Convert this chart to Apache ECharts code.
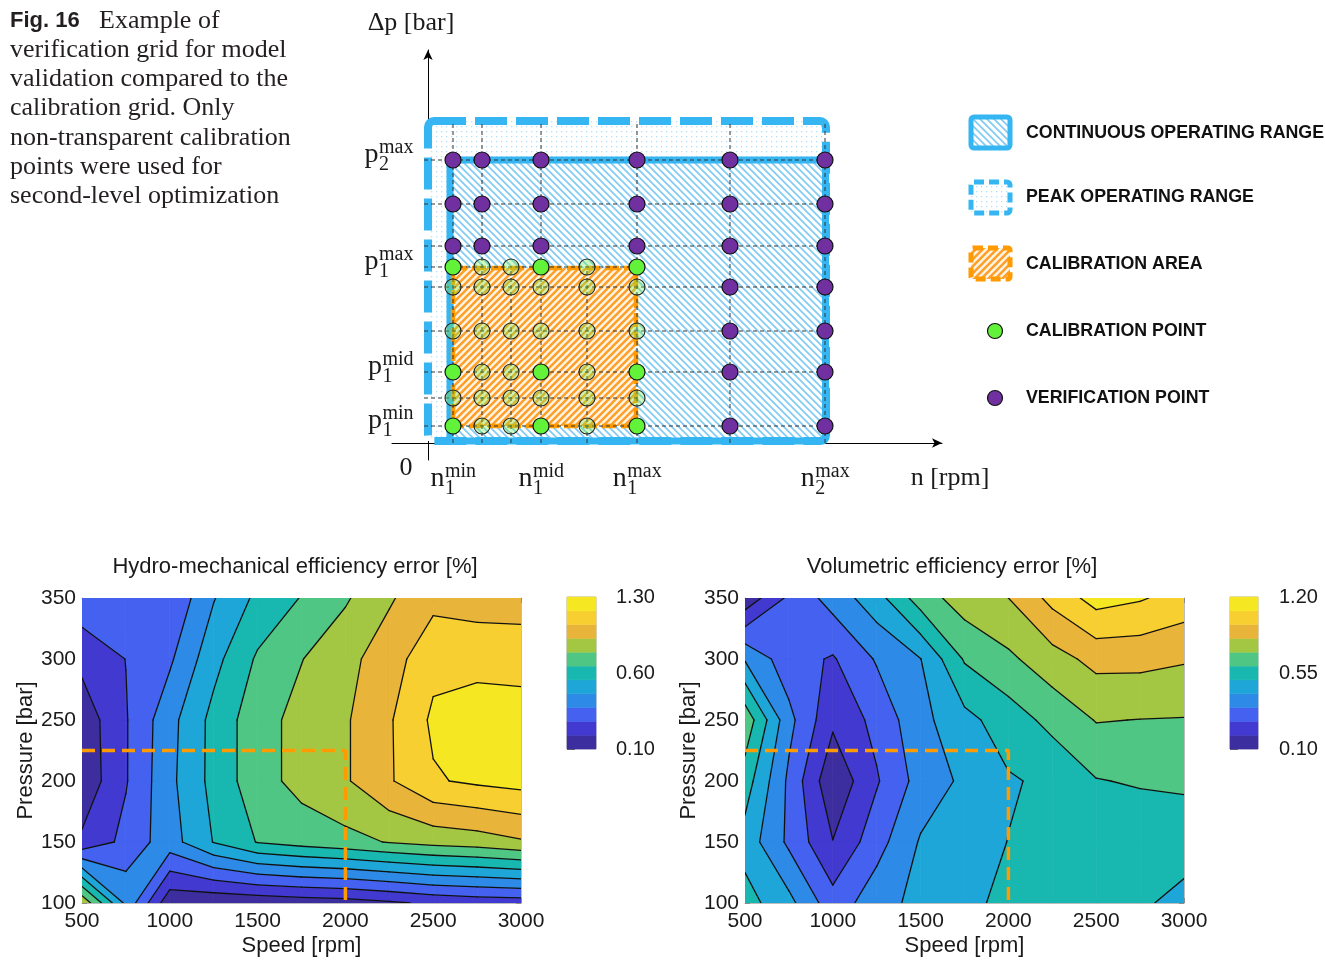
<!DOCTYPE html>
<html><head><meta charset="utf-8">
<script src="https://cdn.jsdelivr.net/npm/echarts@6/dist/echarts.min.js"></script>
<style>html,body{margin:0;padding:0;background:#fff}#c{width:1325px;height:961px}</style>
</head><body><div id="c"></div>
<script>
// ================= DATA =================
// Contour plots: speed [rpm] x pressure [bar] grid
const speeds = [500, 750, 1000, 1250, 1500, 1750, 2000, 2250, 2500, 2750, 3000];
const pressures = [100, 150, 200, 250, 300, 350];
// Hydro-mechanical efficiency error [%] (one array per pressure row)
const hmErrP100 = [0.95, 0.51, 0.13, 0.12, 0.13, 0.15, 0.16, 0.19, 0.23, 0.25, 0.26];
const hmErrP150 = [0.23, 0.35, 0.49, 0.65, 0.76, 0.80, 0.83, 0.87, 0.90, 0.92, 0.96];
const hmErrP200 = [0.13, 0.31, 0.51, 0.68, 0.82, 0.90, 0.96, 1.07, 1.18, 1.21, 1.23];
const hmErrP250 = [0.14, 0.31, 0.50, 0.68, 0.82, 0.90, 0.96, 1.07, 1.21, 1.24, 1.24];
const hmErrP300 = [0.24, 0.32, 0.41, 0.61, 0.77, 0.86, 0.94, 1.03, 1.16, 1.16, 1.15];
const hmErrP350 = [0.39, 0.37, 0.33, 0.53, 0.67, 0.76, 0.85, 0.96, 1.05, 1.03, 1.03];
// Volumetric efficiency error [%]
const volErrP100 = [0.64, 0.53, 0.34, 0.46, 0.53, 0.58, 0.62, 0.62, 0.62, 0.61, 0.58];
const volErrP150 = [0.56, 0.38, 0.203, 0.36, 0.51, 0.55, 0.602, 0.62, 0.63, 0.63, 0.63];
const volErrP200 = [0.65, 0.38, 0.12, 0.29, 0.44, 0.52, 0.59, 0.62, 0.695, 0.71, 0.72];
const volErrP250 = [0.77, 0.43, 0.22, 0.33, 0.47, 0.57, 0.65, 0.73, 0.805, 0.798, 0.795];
const volErrP300 = [0.49, 0.34, 0.29, 0.41, 0.498, 0.71, 0.78, 0.86, 0.93, 0.93, 0.91];
const volErrP350 = [0.13, 0.32, 0.44, 0.56, 0.75, 0.85, 0.90, 1.03, 1.14, 1.11, 1.06];
// Contour range / colorbar
const hmRange = [0.10, 1.30];
const volRange = [0.10, 1.20];
const bandCount = 11;
const hmBarTicks = ['0.10', '0.60', '1.30'];
const volBarTicks = ['0.10', '0.55', '1.20'];
// Calibration boundary (orange dashed) in the contour plots
const calibSpeed = [500, 2000, 2000];
const calibPressure = [225, 225, 100];

// Schematic (relative units along the schematic n / Δp axes)
const schemN = [2.5, 5.4, 8.3, 11.3, 15.9, 20.9, 30.2, 39.7];
const schemP = [1.7, 4.5, 7.1, 11.2, 15.6, 17.6, 19.7, 23.9, 28.3];
const peakN = [0, 39.8], peakP = [0.2, 32.2];
const contN = [2.2, 39.75], contP = [0.2, 28.3];
const calN = [2.5, 20.8], calP = [1.7, 17.5];
const verifCols = [0, 1, 3, 5, 6, 7], verifUpperRows = [6, 7, 8];
const verifSideCols = [6, 7], verifSideRows = [0, 2, 3, 4];
const calibCols = [0, 3, 5], calibRows = [0, 2, 5];
const calGridCols = [0, 1, 2, 3, 4, 5], calGridRows = [0, 1, 2, 3, 4, 5];
const pTickRows = [8, 5, 2, 0], pTickSub = ['2', '1', '1', '1'], pTickSup = ['max', 'max', 'mid', 'min'];
const nTickCols = [0, 3, 5, 7], nTickSub = ['1', '1', '1', '2'], nTickSup = ['min', 'mid', 'max', 'max'];

// ================= STYLE =================
const parula11 = ['#3d2ea0', '#4139d0', '#4462ef', '#2d8ae6', '#1ea6d9', '#18b8b0', '#4fc684', '#a3c742', '#e8b43a', '#f8cf30', '#f6e723'];
const BLUE = '#35b6f3', ORANGE = '#ff9a00', PURPLE = '#7030a0', GREEN = '#62f23a';
const SANS = 'Liberation Sans', SERIF = 'Liberation Serif';

function makeCanvas(w, h, draw) { const c = document.createElement('canvas'); c.width = w; c.height = h; draw(c.getContext('2d')); return c; }
const dotPat = { image: makeCanvas(5, 5, g => { g.fillStyle = '#fff'; g.fillRect(0, 0, 5, 5); g.fillStyle = '#b3e0f6'; g.fillRect(1, 1, 1.3, 1.3); }), repeat: 'repeat' };
const blueHatch = { image: makeCanvas(7, 7, g => { g.fillStyle = '#fff'; g.fillRect(0, 0, 7, 7); g.strokeStyle = '#82cbf2'; g.lineWidth = 1.7; g.beginPath(); g.moveTo(-1, -1); g.lineTo(8, 8); g.moveTo(6, -1); g.lineTo(8, 1); g.moveTo(-1, 6); g.lineTo(1, 8); g.stroke(); }), repeat: 'repeat' };
const orangeHatch = { image: makeCanvas(7, 7, g => { g.fillStyle = '#fff5e6'; g.fillRect(0, 0, 7, 7); g.strokeStyle = '#ffa02a'; g.lineWidth = 2.6; g.beginPath(); g.moveTo(-1, 8); g.lineTo(8, -1); g.moveTo(-1, 1); g.lineTo(1, -1); g.moveTo(6, 8); g.lineTo(8, 6); g.stroke(); }), repeat: 'repeat' };

// ================= CONTOUR HELPERS =================
function levelsFor(range) { const out = []; for (let k = 0; k <= bandCount; k++) out.push(range[0] + (range[1] - range[0]) * k / bandCount); return out; }
function interp(a, b, L) { const t = (L - a.v) / (b.v - a.v); return { x: a.x + t * (b.x - a.x), y: a.y + t * (b.y - a.y), v: L, cut: true }; }
function clip(poly, L, keepAbove) {
  if (!isFinite(L) || poly.length === 0) return poly;
  const out = [], n = poly.length;
  const ins = p => keepAbove ? p.v >= L : p.v < L;
  for (let m = 0; m < n; m++) {
    const a = poly[m], b = poly[(m + 1) % n], ia = ins(a), ib = ins(b);
    if (ia && ib) out.push(b);
    else if (ia && !ib) out.push(interp(a, b, L));
    else if (!ia && ib) { out.push(interp(a, b, L)); out.push(b); }
  }
  return out;
}
function contourSeries(xi, yi, rows, range) {
  const levels = levelsFor(range);
  const cells = [];
  for (let j = 0; j < pressures.length - 1; j++)
    for (let i = 0; i < speeds.length - 1; i++) cells.push([speeds[i], pressures[j], i, j]);
  return {
    type: 'custom', xAxisIndex: xi, yAxisIndex: yi, data: cells, encode: { x: 0, y: 1 }, silent: true, z: 2, clip: true,
    renderItem(params, api) {
      const i = api.value(2), j = api.value(3);
      const corners = [[i, j], [i + 1, j], [i + 1, j + 1], [i, j + 1]].map(([a, b]) => {
        const p = api.coord([speeds[a], pressures[b]]); return { x: p[0], y: p[1], v: rows[b][a] };
      });
      const children = [];
      for (let k = 0; k < bandCount; k++) {
        const lo = k === 0 ? -Infinity : levels[k];
        const hi = k === bandCount - 1 ? Infinity : levels[k + 1];
        let poly = clip(corners, lo, true);
        poly = clip(poly, hi, false);
        if (poly.length >= 3) children.push({ type: 'polygon', z2: 1, shape: { points: poly.map(p => [p.x, p.y]) }, style: { fill: parula11[k], stroke: parula11[k], lineWidth: 0.7 } });
      }
      for (let k = 1; k < bandCount; k++) {
        const poly = clip(corners, levels[k], true);
        for (let m = 0; m < poly.length; m++) {
          const a = poly[m], b = poly[(m + 1) % poly.length];
          if (a.cut && b.cut) children.push({ type: 'line', z2: 50, shape: { x1: a.x, y1: a.y, x2: b.x, y2: b.y }, style: { stroke: '#111', lineWidth: 1.3, lineCap: 'round' } });
        }
      }
      return { type: 'group', children };
    }
  };
}
function colorbarSeries(xi, yi) {
  const bands = []; for (let k = 0; k < bandCount; k++) bands.push([0, k]);
  return {
    type: 'custom', xAxisIndex: xi, yAxisIndex: yi, data: bands, encode: { x: 0, y: 1 }, silent: true,
    renderItem(params, api) {
      const k = api.value(1); const a = api.coord([0, k + 1]), b = api.coord([1, k]);
      return { type: 'rect', shape: { x: a[0], y: a[1], width: b[0] - a[0], height: b[1] - a[1] }, style: { fill: parula11[k], stroke: parula11[k], lineWidth: 0.5 } };
    }
  };
}

// ================= SCHEMATIC HELPERS =================
function rectSeries(n, p, style, z, r) {
  return {
    type: 'custom', xAxisIndex: 0, yAxisIndex: 0, z, silent: true, data: [[n[0], p[0], n[1], p[1]]], encode: { x: [0, 2], y: [1, 3] },
    renderItem(params, api) {
      const a = api.coord([api.value(0), api.value(3)]), b = api.coord([api.value(2), api.value(1)]);
      return { type: 'rect', shape: { x: a[0], y: a[1], width: b[0] - a[0], height: b[1] - a[1], r: r || 0 }, style };
    }
  };
}
const gridLines = [];
schemN.forEach((n, ci) => { gridLines.push([n, 0, n, verifCols.includes(ci) ? peakP[1] : calP[1]]); });
schemP.forEach((p, ri) => { const full = verifUpperRows.includes(ri) || verifSideRows.includes(ri); gridLines.push([-0.4, p, full ? schemN[7] : schemN[5], p]); });
const verifPts = [], calibPts = [], transPts = [];
verifUpperRows.forEach(r => verifCols.forEach(c => verifPts.push([schemN[c], schemP[r]])));
verifSideRows.forEach(r => verifSideCols.forEach(c => verifPts.push([schemN[c], schemP[r]])));
calGridRows.forEach(r => calGridCols.forEach(c => {
  if (calibRows.includes(r) && calibCols.includes(c)) calibPts.push([schemN[c], schemP[r]]);
  else transPts.push([schemN[c], schemP[r]]);
}));

// ================= AXES =================
const tickColor = '#8c8c8c', frameColor = '#bdbdbd', txt = '#1a1a1a';
function xAx(gi, pos, main) {
  return {
    type: 'value', gridIndex: gi, position: pos, min: 500, max: 3000, interval: 500,
    axisLine: { show: true, onZero: false, lineStyle: { color: frameColor } },
    axisTick: { show: true, inside: true, length: 5, lineStyle: { color: tickColor } },
    minorTick: { show: true, splitNumber: 2, length: 5, lineStyle: { color: tickColor } },
    axisLabel: { show: main, margin: 8, fontFamily: SANS, fontSize: 21, color: txt, formatter: v => String(v) },
    splitLine: { show: false },
    name: main ? 'Speed [rpm]' : '', nameLocation: 'middle', nameGap: 32,
    nameTextStyle: { fontFamily: SANS, fontSize: 22, color: txt }
  };
}
function yAx(gi, pos, main) {
  return {
    type: 'value', gridIndex: gi, position: pos, min: 100, max: 350, interval: 50,
    axisLine: { show: true, onZero: false, lineStyle: { color: frameColor } },
    axisTick: { show: true, inside: true, length: 5, lineStyle: { color: tickColor } },
    axisLabel: { show: main, margin: 6, fontFamily: SANS, fontSize: 21, color: txt, formatter: v => String(v) },
    splitLine: { show: false },
    name: main ? 'Pressure [bar]' : '', nameLocation: 'middle', nameGap: 44, nameRotate: 90,
    nameTextStyle: { fontFamily: SANS, fontSize: 22, color: txt }
  };
}
const cbTickPos = [0, 5.5, 11];
function cbY(gi, ticks, margin) {
  return {
    type: 'value', gridIndex: gi, position: 'right', min: 0, max: bandCount, interval: 5.5,
    axisLine: { show: false }, splitLine: { show: false },
    axisTick: { show: true, inside: false, length: 8, lineStyle: { color: '#666' } },
    axisLabel: { margin, fontFamily: SANS, fontSize: 20, color: txt, formatter: v => ticks[cbTickPos.indexOf(v)] || '' }
  };
}
const cbX = gi => ({ type: 'value', gridIndex: gi, min: 0, max: 1, show: false });

const hmRows = [hmErrP100, hmErrP150, hmErrP200, hmErrP250, hmErrP300, hmErrP350];
const volRows = [volErrP100, volErrP150, volErrP200, volErrP250, volErrP300, volErrP350];

const option = {
  animation: false,
  backgroundColor: '#fff',
  grid: [
    { left: 392, top: 50, width: 550, height: 410 },
    { left: 82, top: 598, width: 439, height: 305 },
    { left: 745, top: 598, width: 439, height: 305 },
    { left: 567, top: 597, width: 29, height: 152, show: true, borderColor: '#9a9a9a', borderWidth: 0.8 },
    { left: 1230, top: 597, width: 28, height: 152, show: true, borderColor: '#9a9a9a', borderWidth: 0.8 }
  ],
  xAxis: [
    { type: 'value', gridIndex: 0, min: -3.6, max: 51.4, axisLine: { show: true, onZero: true, symbol: ['none', 'arrow'], symbolSize: [7, 10], lineStyle: { color: '#000', width: 1 } }, axisTick: { show: false }, axisLabel: { show: false }, splitLine: { show: false } },
    xAx(1, 'bottom', true), xAx(1, 'top', false), xAx(2, 'bottom', true), xAx(2, 'top', false),
    cbX(3), cbX(4)
  ],
  yAxis: [
    { type: 'value', gridIndex: 0, min: -1.7, max: 39.3, axisLine: { show: true, onZero: true, symbol: ['none', 'arrow'], symbolSize: [7, 10], lineStyle: { color: '#000', width: 1 } }, axisTick: { show: false }, axisLabel: { show: false }, splitLine: { show: false } },
    yAx(1, 'left', true), yAx(1, 'right', false), yAx(2, 'left', true), yAx(2, 'right', false),
    cbY(3, hmBarTicks, 20), cbY(4, volBarTicks, 21)
  ],
  series: [
    // schematic fills
    rectSeries(peakN, peakP, { fill: dotPat }, 1),
    rectSeries(contN, contP, { fill: blueHatch }, 1),
    rectSeries(calN, calP, { fill: orangeHatch }, 1),
    // schematic borders
    rectSeries(peakN, peakP, { fill: 'none', stroke: BLUE, lineWidth: 8, lineDash: [32, 9], lineDashOffset: 0 }, 2, 6),
    rectSeries(contN, contP, { fill: 'none', stroke: BLUE, lineWidth: 7 }, 2, 3),
    rectSeries(calN, calP, { fill: 'none', stroke: ORANGE, lineWidth: 4.5, lineDash: [14, 5] }, 2),
    {
      type: 'custom', xAxisIndex: 0, yAxisIndex: 0, z: 3, silent: true, data: gridLines, encode: { x: [0, 2], y: [1, 3] },
      renderItem(params, api) {
        const a = api.coord([api.value(0), api.value(1)]), b = api.coord([api.value(2), api.value(3)]);
        return { type: 'line', shape: { x1: a[0], y1: a[1], x2: b[0], y2: b[1] }, style: { stroke: '#333', lineWidth: 1, lineDash: [4, 3] } };
      }
    },
    { type: 'scatter', xAxisIndex: 0, yAxisIndex: 0, z: 5, silent: true, data: verifPts, symbolSize: 16, itemStyle: { color: PURPLE, borderColor: '#111', borderWidth: 1.2, opacity: 1 } },
    { type: 'scatter', xAxisIndex: 0, yAxisIndex: 0, z: 5, silent: true, data: calibPts, symbolSize: 16, itemStyle: { color: GREEN, borderColor: '#111', borderWidth: 1.2, opacity: 1 } },
    { type: 'scatter', xAxisIndex: 0, yAxisIndex: 0, z: 5, silent: true, data: transPts, symbolSize: 16, itemStyle: { color: 'rgba(120,235,80,0.35)', borderColor: '#222', borderWidth: 1.1, opacity: 1 } },
    // contour plots
    contourSeries(1, 1, hmRows, hmRange),
    contourSeries(3, 3, volRows, volRange),
    { type: 'line', xAxisIndex: 1, yAxisIndex: 1, z: 6, silent: true, symbol: 'none', data: calibSpeed.map((s, k) => [s, calibPressure[k]]), lineStyle: { color: ORANGE, width: 3.5, type: [13, 7] } },
    { type: 'line', xAxisIndex: 3, yAxisIndex: 3, z: 6, silent: true, symbol: 'none', data: calibSpeed.map((s, k) => [s, calibPressure[k]]), lineStyle: { color: ORANGE, width: 3.5, type: [13, 7] } },
    colorbarSeries(5, 5),
    colorbarSeries(6, 6)
  ]
};

const chart = echarts.init(document.getElementById('c'), null, { renderer: 'canvas', width: 1325, height: 961 });
chart.setOption(option);

// ================= TEXT / LEGEND GRAPHICS =================
const mctx = document.createElement('canvas').getContext('2d');
function tw(s, font) { mctx.font = font; return mctx.measureText(s).width; }
function T(text, x, y, font, align, va, color) {
  return { type: 'text', x, y, silent: true, style: { text, font, fill: color || '#1a1a1a', textAlign: align || 'left', textVerticalAlign: va || 'middle', align: align || 'left', verticalAlign: va || 'middle' } };
}
const g = [];
// caption
const capFont = '26px "' + SERIF + '"';
g.push(T('Fig. 16', 10, 21, 'bold 22px "' + SANS + '"', 'left', 'middle', '#231f20'));
g.push(T('Example of', 99, 21, capFont, 'left', 'middle', '#231f20'));
['verification grid for model', 'validation compared to the', 'calibration grid. Only', 'non-transparent calibration', 'points were used for', 'second-level optimization']
  .forEach((s, i) => g.push(T(s, 10, 50 + i * 29.3, capFont, 'left', 'middle', '#231f20')));

// schematic labels
const baseFs = 28, smallFs = 20;
const baseFont = baseFs + 'px "' + SERIF + '"', smallFont = smallFs + 'px "' + SERIF + '"';
const mid = fs => 0.3375 * fs; // baseline offset for 'middle'
function supSub(base, sup, sub, left, baseline) {
  const wb = tw(base, baseFont);
  g.push(T(base, left, baseline - mid(baseFs), baseFont));
  g.push(T(sup, left + wb + 0.5, baseline - 10 - mid(smallFs), smallFont));
  g.push(T(sub, left + wb + 0.5, baseline + 7 - mid(smallFs), smallFont));
}
const origin = chart.convertToPixel({ gridIndex: 0 }, [0, 0]);
pTickRows.forEach((r, k) => {
  const py = chart.convertToPixel({ gridIndex: 0 }, [0, schemP[r]])[1];
  const total = tw('p', baseFont) + Math.max(tw(pTickSup[k], smallFont), tw(pTickSub[k], smallFont));
  supSub('p', pTickSup[k], pTickSub[k], origin[0] - 15 - total, py + 4);
});
nTickCols.forEach((c, k) => {
  const px = chart.convertToPixel({ gridIndex: 0 }, [schemN[c], 0])[0];
  const total = tw('n', baseFont) + Math.max(tw(nTickSup[k], smallFont), tw(nTickSub[k], smallFont));
  supSub('n', nTickSup[k], nTickSub[k], px - total / 2, origin[1] + 45);
});
g.push(T('0', origin[0] - 22, origin[1] + 25, '26px "' + SERIF + '"', 'center'));
g.push(T('Δp [bar]', origin[0] - 17, 23, '26px "' + SERIF + '"', 'center'));
g.push(T('n [rpm]', 950, origin[1] + 35, '26px "' + SERIF + '"', 'center'));

// legend
const legFont = 'bold 17.8px "' + SANS + '"';
g.push({ type: 'rect', silent: true, shape: { x: 971, y: 117, width: 39, height: 31, r: 3 }, style: { fill: blueHatch, stroke: BLUE, lineWidth: 5 } });
g.push({ type: 'rect', silent: true, shape: { x: 971, y: 182, width: 39, height: 31, r: 3 }, style: { fill: dotPat, stroke: BLUE, lineWidth: 5, lineDash: [10, 5] } });
g.push({ type: 'rect', silent: true, shape: { x: 971, y: 248, width: 39, height: 31, r: 2 }, style: { fill: orangeHatch, stroke: ORANGE, lineWidth: 5, lineDash: [10, 5] } });
g.push({ type: 'circle', silent: true, shape: { cx: 995, cy: 331, r: 7.5 }, style: { fill: GREEN, stroke: '#111', lineWidth: 1.2 } });
g.push({ type: 'circle', silent: true, shape: { cx: 995, cy: 398, r: 7.5 }, style: { fill: PURPLE, stroke: '#111', lineWidth: 1.2 } });
[['CONTINUOUS OPERATING RANGE', 133], ['PEAK OPERATING RANGE', 197], ['CALIBRATION AREA', 264], ['CALIBRATION POINT', 331], ['VERIFICATION POINT', 398]]
  .forEach(([s, y]) => g.push(T(s, 1026, y, legFont, 'left', 'middle', '#111')));

// contour titles
g.push(T('Hydro-mechanical efficiency error [%]', 295, 567, '22px "' + SANS + '"', 'center'));
g.push(T('Volumetric efficiency error [%]', 952, 567, '22px "' + SANS + '"', 'center'));

chart.setOption({ graphic: g });
</script>
</body></html>
